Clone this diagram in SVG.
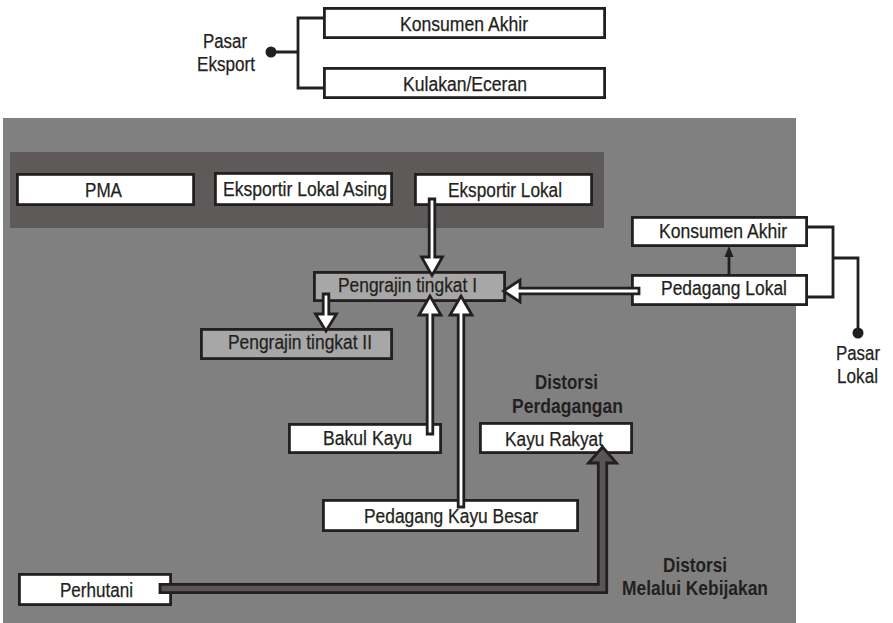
<svg xmlns="http://www.w3.org/2000/svg" width="893" height="623" viewBox="0 0 893 623">
  <style>
    .box { fill: #ffffff; stroke: #231f20; stroke-width: 2.8; }
    .craft { fill: #a7a7a7; stroke: #231f20; stroke-width: 2.8; }
    .lbl { font-family: "Liberation Sans", Arial, sans-serif; font-size: 20px; fill: #231f20; stroke: #231f20; stroke-width: 0.25; }
    .note { font-family: "Liberation Sans", Arial, sans-serif; font-size: 21px; font-weight: bold; fill: #231f20; }
    .wire { fill: none; stroke: #231f20; stroke-width: 2.8; }
    .hollow { fill: #ffffff; stroke: #231f20; stroke-width: 2.8; stroke-linejoin: miter; }
    .policy { fill: #5a5555; stroke: #231f20; stroke-width: 2.8; stroke-linejoin: miter; }
    .dot { fill: #231f20; }
  </style>

  <!-- panels -->
  <rect x="3" y="118" width="793" height="505" fill="#808080"/>
  <rect x="10" y="152" width="594" height="76" fill="#5f5a5a"/>

  <!-- export market -->
  <g id="pasar-eksport">
    <text class="lbl" x="203" y="48" textLength="44" lengthAdjust="spacingAndGlyphs">Pasar</text>
    <text class="lbl" x="197" y="71" textLength="58" lengthAdjust="spacingAndGlyphs">Eksport</text>
    <circle class="dot" cx="271" cy="52" r="5.5"/>
  </g>
  <g id="konsumen-akhir-ekspor">
    <rect class="box" x="324.4" y="8.4" width="280.2" height="29.2"/>
    <text class="lbl" x="400" y="31" textLength="128" lengthAdjust="spacingAndGlyphs">Konsumen Akhir</text>
  </g>
  <g id="kulakan-eceran">
    <rect class="box" x="324.4" y="68.4" width="280.2" height="29.2"/>
    <text class="lbl" x="403" y="91" textLength="124" lengthAdjust="spacingAndGlyphs">Kulakan/Eceran</text>
  </g>

  <!-- exporters -->
  <g id="pma">
    <rect class="box" x="17.4" y="174.4" width="176.2" height="30.2"/>
    <text class="lbl" x="85" y="197" textLength="37" lengthAdjust="spacingAndGlyphs">PMA</text>
  </g>
  <g id="eksportir-lokal-asing">
    <rect class="box" x="215.4" y="173.4" width="176.2" height="31.2"/>
    <text class="lbl" x="223" y="196" textLength="164" lengthAdjust="spacingAndGlyphs">Eksportir Lokal Asing</text>
  </g>
  <g id="eksportir-lokal">
    <rect class="box" x="415.4" y="174.4" width="176.2" height="30.2"/>
    <text class="lbl" x="448" y="197" textLength="114" lengthAdjust="spacingAndGlyphs">Eksportir Lokal</text>
  </g>

  <!-- craftsmen -->
  <g id="pengrajin-1">
    <rect class="craft" x="314.4" y="272.4" width="190.2" height="28.2"/>
    <text class="lbl" x="338" y="292" textLength="139" lengthAdjust="spacingAndGlyphs">Pengrajin tingkat I</text>
  </g>
  <g id="pengrajin-2">
    <rect class="craft" x="201.4" y="329.4" width="190.2" height="29.2"/>
    <text class="lbl" x="228" y="349" textLength="144" lengthAdjust="spacingAndGlyphs">Pengrajin tingkat II</text>
  </g>

  <!-- local market -->
  <g id="konsumen-akhir-lokal">
    <rect class="box" x="632.4" y="217.4" width="174.2" height="28.2"/>
    <text class="lbl" x="659" y="238" textLength="128" lengthAdjust="spacingAndGlyphs">Konsumen Akhir</text>
  </g>
  <g id="pedagang-lokal">
    <rect class="box" x="632.4" y="275.4" width="174.2" height="29.2"/>
    <text class="lbl" x="661" y="295" textLength="126" lengthAdjust="spacingAndGlyphs">Pedagang Lokal</text>
  </g>
  <g id="pasar-lokal">
    <circle class="dot" cx="858" cy="333" r="5.5"/>
    <text class="lbl" x="836" y="360" textLength="44" lengthAdjust="spacingAndGlyphs">Pasar</text>
    <text class="lbl" x="837" y="383" textLength="41" lengthAdjust="spacingAndGlyphs">Lokal</text>
  </g>

  <!-- timber suppliers -->
  <g id="bakul-kayu">
    <rect class="box" x="289.4" y="424.4" width="151.2" height="28.2"/>
    <text class="lbl" x="323" y="445" textLength="89" lengthAdjust="spacingAndGlyphs">Bakul Kayu</text>
  </g>
  <g id="kayu-rakyat">
    <rect class="box" x="480.4" y="423.4" width="151.2" height="29.2"/>
    <text class="lbl" x="505" y="446" textLength="98" lengthAdjust="spacingAndGlyphs">Kayu Rakyat</text>
  </g>
  <g id="pedagang-kayu-besar">
    <rect class="box" x="323.4" y="500.4" width="254.2" height="30.2"/>
    <text class="lbl" x="364" y="523" textLength="174" lengthAdjust="spacingAndGlyphs">Pedagang Kayu Besar</text>
  </g>
  <g id="perhutani">
    <rect class="box" x="19.4" y="574.4" width="151.2" height="30.2"/>
    <text class="lbl" x="60" y="597" textLength="73" lengthAdjust="spacingAndGlyphs">Perhutani</text>
  </g>

  <!-- distortion notes -->
  <g id="distorsi-perdagangan">
    <text class="note" x="535" y="389" textLength="63" lengthAdjust="spacingAndGlyphs">Distorsi</text>
    <text class="note" x="512" y="413" textLength="111" lengthAdjust="spacingAndGlyphs">Perdagangan</text>
  </g>
  <g id="distorsi-kebijakan">
    <text class="note" x="663" y="572" textLength="64" lengthAdjust="spacingAndGlyphs">Distorsi</text>
    <text class="note" x="622" y="595" textLength="146" lengthAdjust="spacingAndGlyphs">Melalui Kebijakan</text>
  </g>

  <g id="connectors">
    <!-- export market bracket -->
    <path class="wire" d="M271 52 H298 M323 18 H298 V88 H323"/>
    <!-- local market bracket -->
    <path class="wire" d="M808 227 H833 V297 H808 M833 258 H858 V333"/>
    <!-- Pedagang Lokal to Konsumen Akhir -->
    <path class="wire" d="M729 274 V254"/>
    <polygon class="dot" points="729,246 733.5,257 724.5,257"/>

    <!-- flows of goods -->
    <path class="hollow" d="M429.2 199 H434.8 V257 H442.5 L432 275.5 L421.5 257 H429.2 Z"/>
    <path class="hollow" d="M323.2 294 H328.8 V314 H336.5 L326 331 L315.5 314 H323.2 Z"/>
    <path class="hollow" d="M427.2 434 H432.8 V315 H441 L430 296 L419 315 H427.2 Z"/>
    <path class="hollow" d="M458.2 507 H463.8 V315 H472 L461 296 L450 315 H458.2 Z"/>
    <path class="hollow" d="M639 288.2 V293.8 H520 V302 L503.5 291 L520 280 V288.2 Z"/>

    <!-- Perhutani policy flow -->
    <path class="policy" d="M160 584.3 H598.3 V463 H588.5 L602.5 447 L616.5 463 H606.7 V592.7 H160 Z"/>
  </g>
</svg>
